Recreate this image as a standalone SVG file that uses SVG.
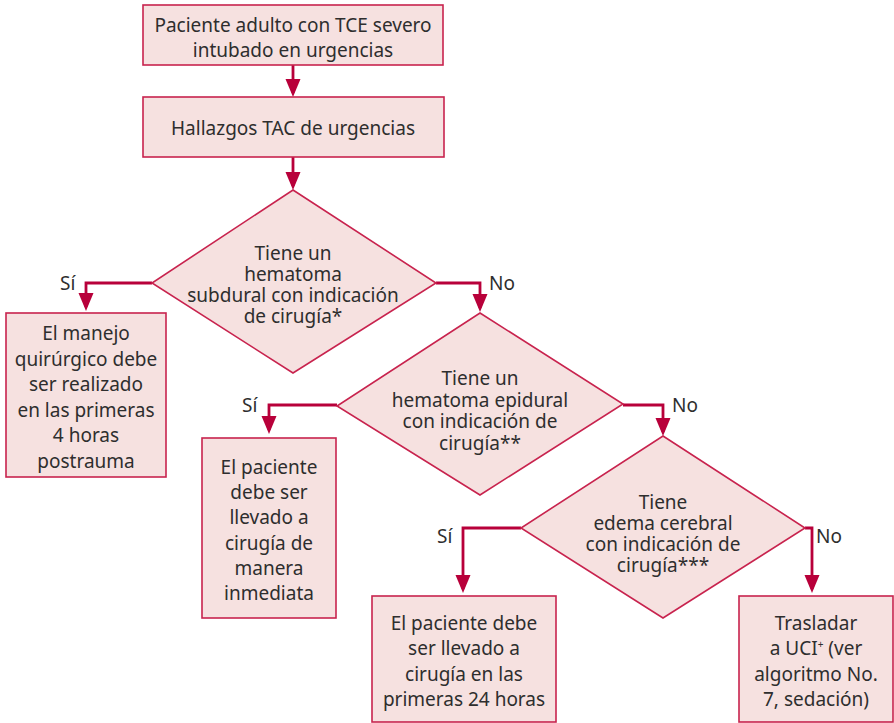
<svg xmlns="http://www.w3.org/2000/svg" width="894" height="723" viewBox="0 0 894 723">
<style>
.box{fill:#f6e1e0;stroke:#c8234e;stroke-width:1.6}
.t{font-family:"Noto Sans","Open Sans",sans-serif;font-size:19px;fill:#2e2e2e;text-anchor:middle}
.lbl{font-family:"Noto Sans","Open Sans",sans-serif;font-size:19px;fill:#2e2e2e}
.c{fill:none;stroke:#b8003a;stroke-width:2.8}
</style>
<defs>
<marker id="ah" markerUnits="userSpaceOnUse" markerWidth="18" markerHeight="16" refX="14" refY="8" orient="auto" viewBox="0 0 18 16">
<path d="M0,0.5 L18,8 L0,15.5 z" fill="#b8003a"/>
</marker>
</defs>
<g id="connectors">
<path class="c" d="M293,65 V93" marker-end="url(#ah)"/>
<path class="c" d="M293,157 V186" marker-end="url(#ah)"/>
<path class="c" d="M152,283 H86 V307" marker-end="url(#ah)"/>
<path class="c" d="M436,283 H480 V308" marker-end="url(#ah)"/>
<path class="c" d="M337,405 H269 V430" marker-end="url(#ah)"/>
<path class="c" d="M623,405 H663 V432" marker-end="url(#ah)"/>
<path class="c" d="M521,528 H463 V589" marker-end="url(#ah)"/>
<path class="c" d="M805,528 H812 V589" marker-end="url(#ah)"/>
<text class="lbl" x="60" y="290">Sí</text>
<text class="lbl" x="489" y="290">No</text>
<text class="lbl" x="242" y="412">Sí</text>
<text class="lbl" x="672" y="412">No</text>
<text class="lbl" x="437" y="543">Sí</text>
<text class="lbl" x="816" y="543">No</text>
</g>
<g id="n1">
<rect class="box" x="143" y="5" width="300" height="60"/>
<text class="t" x="293" y="32">Paciente adulto con TCE severo</text>
<text class="t" x="293" y="57">intubado en urgencias</text>
</g>
<g id="n2">
<rect class="box" x="143" y="97" width="301" height="60"/>
<text class="t" x="293" y="135">Hallazgos TAC de urgencias</text>
</g>
<g id="d1">
<polygon class="box" points="293,190 436,283 293,373 152,283"/>
<text class="t" x="293" y="260">Tiene un</text>
<text class="t" x="293" y="281">hematoma</text>
<text class="t" x="293" y="302">subdural con indicación</text>
<text class="t" x="293" y="323">de cirugía*</text>
</g>
<g id="n3">
<rect class="box" x="6" y="313" width="160" height="164"/>
<text class="t" x="86" y="340">El manejo</text>
<text class="t" x="86" y="365.5">quirúrgico debe</text>
<text class="t" x="86" y="391">ser realizado</text>
<text class="t" x="86" y="416.5">en las primeras</text>
<text class="t" x="86" y="442">4 horas</text>
<text class="t" x="86" y="467.5">postrauma</text>
</g>
<g id="d2">
<polygon class="box" points="480,313 623,404 480,495 337,406"/>
<text class="t" x="480" y="385">Tiene un</text>
<text class="t" x="480" y="407">hematoma epidural</text>
<text class="t" x="480" y="428">con indicación de</text>
<text class="t" x="480" y="450">cirugía**</text>
</g>
<g id="n4">
<rect class="box" x="202" y="438" width="134" height="180"/>
<text class="t" x="269" y="474">El paciente</text>
<text class="t" x="269" y="499">debe ser</text>
<text class="t" x="269" y="524">llevado a</text>
<text class="t" x="269" y="550">cirugía de</text>
<text class="t" x="269" y="575">manera</text>
<text class="t" x="269" y="600">inmediata</text>
</g>
<g id="d3">
<polygon class="box" points="663,436 805,528 663,618 521,528"/>
<text class="t" x="663" y="509">Tiene</text>
<text class="t" x="663" y="530">edema cerebral</text>
<text class="t" x="663" y="551">con indicación de</text>
<text class="t" x="663" y="572">cirugía***</text>
</g>
<g id="n5">
<rect class="box" x="372" y="596" width="184" height="126"/>
<text class="t" x="464" y="630">El paciente debe</text>
<text class="t" x="464" y="655">ser llevado a</text>
<text class="t" x="464" y="681">cirugía en las</text>
<text class="t" x="464" y="706">primeras 24 horas</text>
</g>
<g id="n6">
<rect class="box" x="739" y="596" width="154" height="126"/>
<text class="t" x="816" y="630">Trasladar</text>
<text class="t" x="816" y="655">a UCI<tspan font-size="10" dy="-7">+</tspan><tspan dy="7"> (ver</tspan></text>
<text class="t" x="816" y="681">algoritmo No.</text>
<text class="t" x="816" y="706">7, sedación)</text>
</g>
</svg>
